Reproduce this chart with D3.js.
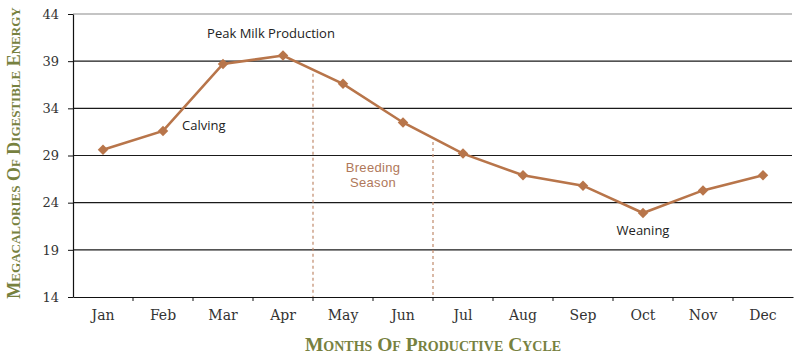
<!DOCTYPE html>
<html>
<head>
<meta charset="utf-8">
<script src="https://cdn.jsdelivr.net/npm/d3@7"></script>
<style>
  body { margin: 0; background: #fff; }
  svg { display: block; }
</style>
</head>
<body>
<script>
// data
var months = ["Jan","Feb","Mar","Apr","May","Jun","Jul","Aug","Sep","Oct","Nov","Dec"]
var energy = [29.6, 31.6, 38.7, 39.6, 36.6, 32.5, 29.2, 26.9, 25.8, 22.9, 25.3, 26.9]
var yTicks = [14, 19, 24, 29, 34, 39, 44]
var breeding = ["May", "Jul"]   // season starts before May, ends before Jul

var margin = {top: 14, right: 1, bottom: 58, left: 73}
var width = 794 - margin.left - margin.right,
    height = 355 - margin.top - margin.bottom

var svg = d3.select("body")
  .append("svg")
  .attr("width", 794)
  .attr("height", 355)
  .append("g")
  .attr("transform", "translate(" + margin.left + "," + margin.top + ")");

var x = d3.scaleBand()
  .domain(months)
  .range([0, width])

var y = d3.scaleLinear()
  .domain([14, 44])
  .range([height, 0])

// gridlines
svg.selectAll("grid")
  .data(yTicks.slice(1))
  .enter()
  .append("line")
    .attr("x1", 0)
    .attr("x2", width - 1)
    .attr("y1", function(d){ return y(d) })
    .attr("y2", function(d){ return y(d) })
    .attr("stroke", function(d){ return d === 44 ? "#8a8a8a" : "#1a1a1a" })
    .attr("stroke-width", 1.2)

// y axis
var yAxis = svg.append("g")
  .call(d3.axisLeft(y).tickValues(yTicks).tickSize(5).tickSizeOuter(0))
yAxis.select(".domain").attr("stroke", "#111").attr("stroke-width", 1.2)
yAxis.selectAll(".tick line").attr("stroke", "#111")
yAxis.selectAll("text")
  .attr("x", -14)
  .style("font-family", "'DejaVu Serif', serif")
  .style("font-size", "13px")
  .attr("fill", "#333")

// x axis
var xAxis = svg.append("g")
  .attr("transform", "translate(0," + height + ")")
  .call(d3.axisBottom(x).tickSize(0).tickSizeOuter(0))
xAxis.select(".domain").attr("stroke", "#111").attr("stroke-width", 1.2)
xAxis.selectAll("text")
  .attr("y", 13)
  .style("font-family", "'DejaVu Serif', serif")
  .style("font-size", "14px")
  .attr("fill", "#333")

// band boundary ticks
svg.selectAll("xticks")
  .data(months.slice(1))
  .enter()
  .append("line")
    .attr("x1", function(d){ return x(d) })
    .attr("x2", function(d){ return x(d) })
    .attr("y1", height)
    .attr("y2", height + 4)
    .attr("stroke", "#111")

// breeding season dashed lines, up to the curve
var line = d3.line()
  .x(function(d, i){ return x(months[i]) + x.bandwidth() / 2 })
  .y(function(d){ return y(d) })

function curveAt(m) {
  var i = months.indexOf(m)
  return (energy[i - 1] + energy[i]) / 2
}

svg.selectAll("breed")
  .data(breeding)
  .enter()
  .append("line")
    .attr("x1", function(d){ return x(d) })
    .attr("x2", function(d){ return x(d) })
    .attr("y1", function(d){ return y(curveAt(d)) + 4 })
    .attr("y2", height)
    .attr("stroke", "#c08a6c")
    .attr("stroke-width", 1.2)
    .attr("stroke-dasharray", "3,3")

// the series line
svg.append("path")
  .datum(energy)
  .attr("d", line)
  .attr("fill", "none")
  .attr("stroke", "#b8754a")
  .attr("stroke-width", 2.6)

svg.selectAll("marks")
  .data(energy)
  .enter()
  .append("path")
    .attr("d", d3.symbol().type(d3.symbolDiamond2).size(70))
    .attr("transform", function(d, i){
      return "translate(" + (x(months[i]) + x.bandwidth() / 2) + "," + y(d) + ")" })
    .attr("fill", "#b8754a")

// annotations
var notes = [
  {t: "Peak Milk Production", m: "Apr", dx: -12, v: 39.6, dy: -18, a: "middle"},
  {t: "Calving", m: "Feb", dx: -11, v: 31.6, dy: -1, a: "start"},
  {t: "Weaning", m: "Oct", dx: 0, v: 22.9, dy: 22, a: "middle"}
]
svg.selectAll("notes")
  .data(notes)
  .enter()
  .append("text")
    .attr("x", function(d){
      var cx = x(d.m) + x.bandwidth() / 2
      return d.a === "start" ? cx + 30 + d.dx : cx + d.dx })
    .attr("y", function(d){ return y(d.v) + d.dy })
    .attr("text-anchor", function(d){ return d.a })
    .style("font-family", "'Open Sans', sans-serif")
    .style("font-size", "13px")
    .attr("fill", "#222")
    .text(function(d){ return d.t })

// breeding season label, two lines
var bx = (x(breeding[0]) + x(breeding[1])) / 2
svg.selectAll("breedlabel")
  .data(["Breeding", "Season"])
  .enter()
  .append("text")
    .attr("x", bx)
    .attr("y", function(d, i){ return y(27.3) + i * 15.5 })
    .attr("text-anchor", "middle")
    .style("font-family", "'Liberation Sans', sans-serif")
    .style("font-size", "13px")
    .style("letter-spacing", "0.3px")
    .attr("fill", "#b0785a")
    .text(function(d){ return d })

// axis titles
d3.select("svg").append("text")
  .attr("transform", "translate(20,153)rotate(-90)")
  .attr("text-anchor", "middle")
  .style("font-family", "'Liberation Serif', serif")
  .style("font-variant", "small-caps")
  .style("font-weight", "bold")
  .style("font-size", "18px")
  .attr("fill", "#77813f")
  .text("Megacalories Of Digestible Energy")

d3.select("svg").append("text")
  .attr("x", margin.left + width / 2)
  .attr("y", 351)
  .attr("text-anchor", "middle")
  .style("font-family", "'Liberation Serif', serif")
  .style("font-variant", "small-caps")
  .style("font-weight", "bold")
  .style("font-size", "19.5px")
  .attr("fill", "#77813f")
  .text("Months Of Productive Cycle")
</script>
</body>
</html>
